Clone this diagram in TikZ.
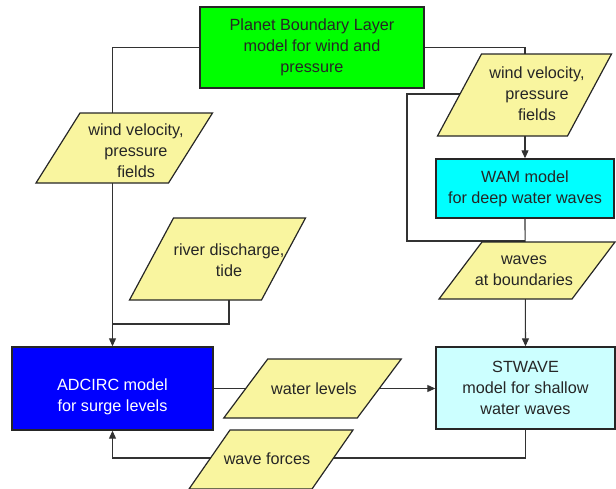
\documentclass[tikz,border=0pt]{standalone}
\usepackage{fontspec}
\setmainfont{Liberation Sans}
\usetikzlibrary{arrows.meta}
\definecolor{pblgreen}{RGB}{0,255,0}
\definecolor{wamcyan}{RGB}{0,255,255}
\definecolor{stwcyan}{RGB}{204,255,255}
\definecolor{adcblue}{RGB}{0,0,255}
\definecolor{datayellow}{RGB}{249,245,159}
\definecolor{inkgray}{RGB}{38,38,38}
\definecolor{wiregray}{RGB}{50,50,50}

% data parallelogram: name, centre, edge length, height, slant
\newcommand\slantbox[5]{%
  \node[dataspot, minimum width=#3pt, minimum height=#4pt] (#1) at #2 {};
  \draw[dataedge] ([xshift=#5*0.5pt]#1.north west) -- ([xshift=#5*0.5pt]#1.north east)
    -- ([xshift=-#5*0.5pt]#1.south east) -- ([xshift=-#5*0.5pt]#1.south west) -- cycle;}

\begin{document}
\begin{tikzpicture}[x=1pt,y=-1pt,
  font=\fontsize{16.2}{20.8}\selectfont,
  model/.style={rectangle, draw=inkgray, line width=1.4pt, inner sep=0pt, align=center, text=inkgray},
  dataspot/.style={rectangle, inner sep=0pt, outer sep=0pt},
  dataedge/.style={draw=inkgray, line width=1.2pt, fill=datayellow, line join=miter},
  txt/.style={align=center, text=inkgray, inner sep=0pt},
  wire/.style={draw=wiregray, line width=1.1pt},
  feed/.style={wire, -{Triangle[length=8pt,width=7pt]}}
]
\useasboundingbox (0,0) rectangle (616,488);

% model boxes
\node[model, fill=pblgreen, minimum width=224pt, minimum height=81pt] (pbl) at (312,47.5)
  {Planet Boundary Layer\\model for wind and\\pressure};
\node[model, fill=wamcyan, minimum width=178pt, minimum height=59pt] (wam) at (525,188.5)
  {WAM model\\for deep water waves};
\node[model, fill=stwcyan, minimum width=179pt, minimum height=82pt] (stwave) at (525.5,388)
  {STWAVE\\model for shallow\\water waves};
\node[model, fill=adcblue, minimum width=201pt, minimum height=83pt] (adcirc) at (112.5,388.5) {};
\node[txt, text=white] (adcirctext) at (112.5,397) {ADCIRC model\\for surge levels};

% helper points for the routed connectors
\coordinate (mergeY) at (0,324);
\coordinate (loopTop) at (407,94);
\coordinate (loopBot) at (407,241);
\coordinate (returnY) at (0,458);

% connectors that run behind the data parallelograms
\draw[feed] (pbl.west) -| (adcirc.north);
\draw[feed] (pbl.east) -| (wam.north);
\draw[wire] (wam.north |- loopTop) -- (loopTop) -- (loopBot) -- (wam.south |- loopBot);
\draw[feed] (wam.south) -- (stwave.north);
\draw[feed] (adcirc.east) -- (adcirc.east -| stwave.west);
\draw[feed] (stwave.south) -- (stwave.south |- returnY) -| (adcirc.south);

% data parallelograms
\slantbox{windL}{(124.25,148)}{132.5}{70}{44}
\node[txt] (windLtext) at (136,151) {wind velocity,\\pressure\\fields};

\slantbox{river}{(217.5,259)}{132}{82}{44}
\node[txt] (rivertext) at (229,260) {river discharge,\\tide};

\slantbox{windR}{(524.5,95)}{130}{82}{44}
\node[txt] (windRtext) at (537,94) {wind velocity,\\pressure\\fields};

\slantbox{waves}{(527,270.5)}{133}{57}{43}
\node[txt] (wavestext) at (524,271) {waves\\at boundaries};

\slantbox{wlev}{(312.5,388.5)}{133.5}{59}{44}
\node[txt] (wlevtext) at (314,389) {water levels};

\slantbox{wforce}{(271,459.5)}{123}{59}{41}
\node[txt] (wforcetext) at (267,459) {wave forces};

% river input joins the wind line above ADCIRC
\draw[wire] (rivertext |- river.south) |- (adcirc.north |- mergeY);
\end{tikzpicture}
\end{document}
